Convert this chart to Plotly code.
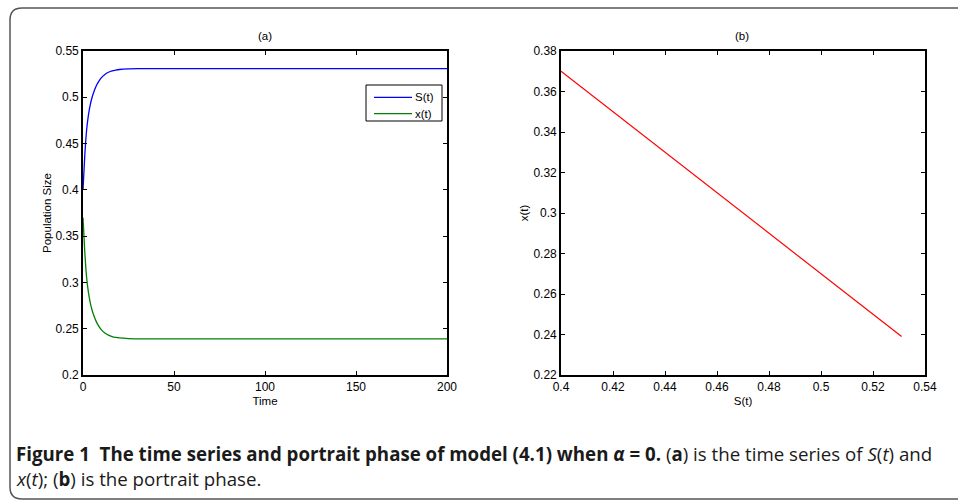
import plotly.graph_objects as go

W, H = 958, 500

# ---- data ----
time = [0, 1, 2, 3, 4, 5, 6, 7, 8, 10, 12, 14, 16, 18, 20, 25, 30, 40, 50, 60, 80,
        100, 120, 140, 160, 180, 200]
S_vals = [0.400, 0.438, 0.465, 0.481, 0.492, 0.500, 0.506, 0.511, 0.515, 0.521, 0.5247,
          0.527, 0.5285, 0.5294, 0.5300, 0.5307, 0.5309, 0.531, 0.531, 0.531, 0.531,
          0.531, 0.531, 0.531, 0.531, 0.531, 0.531]
x_vals = [0.370, 0.332, 0.305, 0.289, 0.278, 0.270, 0.264, 0.259, 0.255, 0.249, 0.2453,
          0.243, 0.2415, 0.2406, 0.2400, 0.2393, 0.2391, 0.239, 0.239, 0.239, 0.239,
          0.239, 0.239, 0.239, 0.239, 0.239, 0.239]
series_names = ["S(t)", "x(t)"]
series_colors = ["#0000ff", "#008000"]

a_xticks = [0, 50, 100, 150, 200]
a_yticks = [0.2, 0.25, 0.3, 0.35, 0.4, 0.45, 0.5, 0.55]
a_ytext = ["0.2", "0.25", "0.3", "0.35", "0.4", "0.45", "0.5", "0.55"]
b_xticks = [0.4, 0.42, 0.44, 0.46, 0.48, 0.5, 0.52, 0.54]
b_xtext = ["0.4", "0.42", "0.44", "0.46", "0.48", "0.5", "0.52", "0.54"]
b_yticks = [0.22, 0.24, 0.26, 0.28, 0.3, 0.32, 0.34, 0.36, 0.38]
b_ytext = ["0.22", "0.24", "0.26", "0.28", "0.3", "0.32", "0.34", "0.36", "0.38"]

FONT = "Liberation Sans, Arial, sans-serif"

def px_x(p):
    return p / W

def px_y(p):
    return 1 - p / H

fig = go.Figure()
for vals, nm, col in zip([S_vals, x_vals], series_names, series_colors):
    fig.add_trace(go.Scatter(x=time, y=vals, mode="lines", name=nm,
                             line=dict(color=col, width=1.3, shape="spline", smoothing=0.6),
                             xaxis="x", yaxis="y", showlegend=False))
fig.add_trace(go.Scatter(x=S_vals, y=x_vals, mode="lines", name="phase",
                         line=dict(color="#ff0000", width=1.2), showlegend=False,
                         xaxis="x2", yaxis="y2"))

axis_common = dict(showgrid=False, zeroline=False, showline=True, linecolor="black",
                   linewidth=1.6, mirror="ticks", ticks="inside", ticklen=4,
                   tickcolor="black", tickwidth=1, automargin=False,
                   tickfont=dict(family=FONT, size=12, color="black"))
tfont = dict(family=FONT, size=11.5, color="black")

ydom = [px_y(375), px_y(51)]
fig.update_layout(
    width=W, height=H, margin=dict(l=0, r=0, t=0, b=0),
    paper_bgcolor="white", plot_bgcolor="white",
    xaxis=dict(domain=[px_x(83), px_x(447)], range=[0, 200], tickvals=a_xticks,
               anchor="y", title=dict(text="Time", font=tfont, standoff=4), **axis_common),
    yaxis=dict(domain=ydom, range=[0.2, 0.55], tickvals=a_yticks, ticktext=a_ytext,
               anchor="x", title=dict(text="Population Size", font=tfont, standoff=1),
               **axis_common),
    xaxis2=dict(domain=[px_x(561), px_x(925)], range=[0.4, 0.54], tickvals=b_xticks,
                ticktext=b_xtext, anchor="y2",
                title=dict(text="S(t)", font=tfont, standoff=4), **axis_common),
    yaxis2=dict(domain=ydom, range=[0.22, 0.38], tickvals=b_yticks, ticktext=b_ytext,
                anchor="x2", title=dict(text="x(t)", font=tfont, standoff=2),
                **axis_common),
    showlegend=False,
)

# manual legend box for panel (a)
fig.add_shape(type="rect", xref="paper", yref="paper",
              x0=px_x(366), x1=px_x(442), y0=px_y(121), y1=px_y(85),
              line=dict(color="black", width=1), fillcolor="white", layer="above")
for i, (nm, col) in enumerate(zip(series_names, series_colors)):
    yy = px_y(97.3 + 16.4 * i)
    fig.add_shape(type="line", xref="paper", yref="paper",
                  x0=px_x(374), x1=px_x(412), y0=yy, y1=yy,
                  line=dict(color=col, width=1.3), layer="above")
    fig.add_annotation(text=nm, x=px_x(413), y=yy, xref="paper", yref="paper",
                       xanchor="left", yanchor="middle", showarrow=False, font=tfont)

# subplot titles
fig.add_annotation(text="(a)", x=px_x(265), y=px_y(36), xref="paper", yref="paper",
                   xanchor="center", yanchor="middle", showarrow=False, font=tfont)
fig.add_annotation(text="(b)", x=px_x(742), y=px_y(36), xref="paper", yref="paper",
                   xanchor="center", yanchor="middle", showarrow=False, font=tfont)

# caption
CAP = "Open Sans, Noto Sans, sans-serif"
fig.add_annotation(
    text="<b>Figure 1  The time series and portrait phase of model (4.1) when <i>α</i> = 0.</b> "
         "(<b>a</b>) is the time series of <i>S</i>(<i>t</i>) and",
    x=px_x(14), y=px_y(453), xref="paper", yref="paper", xanchor="left", yanchor="middle",
    showarrow=False, font=dict(family=CAP, size=18.7, color="#1a1a1a"))
fig.add_annotation(
    text="<i>x</i>(<i>t</i>); (<b>b</b>) is the portrait phase.",
    x=px_x(14), y=px_y(478), xref="paper", yref="paper", xanchor="left", yanchor="middle",
    showarrow=False, font=dict(family=CAP, size=18.7, color="#1a1a1a"))

# rounded border frame
x0, y0, x1, y1, r = px_x(10), px_y(8), px_x(975), px_y(499), 12
rx, ry = r / W, r / H
path = (f"M {x1},{y0} L {x0+rx},{y0} Q {x0},{y0} {x0},{y0-ry} "
        f"L {x0},{y1+ry} Q {x0},{y1} {x0+rx},{y1} L {x1},{y1}")
fig.add_shape(type="path", path=path, xref="paper", yref="paper",
              line=dict(color="#555", width=1.5))

fig.write_html("out.html",
               post_script="document.body.style.margin='0';document.body.style.overflow='hidden';")
